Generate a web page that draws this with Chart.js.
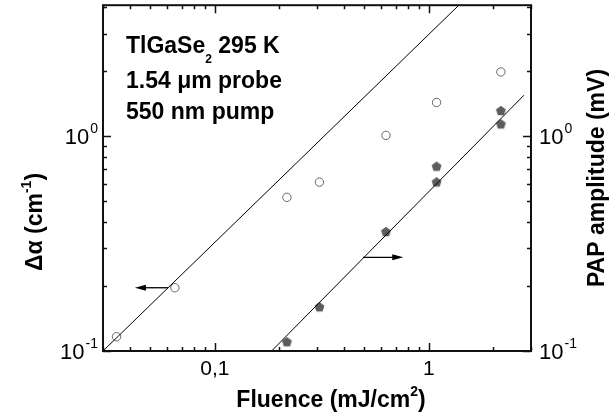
<!DOCTYPE html>
<html>
<head>
<meta charset="utf-8">
<script src="https://cdn.jsdelivr.net/npm/chart.js@4.4.0/dist/chart.umd.min.js"></script>
<style>
  html, body { margin: 0; padding: 0; background: #fff; }
  canvas { display: block; }
</style>
</head>
<body>
<canvas id="chart" width="616" height="416"></canvas>
<script>
// open circles -> left axis (Δα)
const absFluence = [0.0347, 0.065, 0.217, 0.308, 0.63, 1.086, 2.17];
const absDelta = [0.1165, 0.197, 0.519, 0.611, 1.008, 1.435, 1.99];

// filled pentagons -> right axis (PAP amplitude)
const papFluence = [0.217, 0.308, 0.63, 1.086, 1.086, 2.17, 2.17];
const papAmp = [0.1105, 0.1607, 0.36, 0.725, 0.613, 1.317, 1.141];

// straight guide lines, two end points each
const fitAbsX = [0.03, 1.38];
const fitAbsY = [0.1, 4.07];
const fitPapX = [0.184, 2.78];
const fitPapY = [0.1, 1.55];

// arrows: [x tail, x head, y]
const arrowAbs = [0.0603, 0.0423, 0.197];
const arrowPap = [0.492, 0.759, 0.273];

// axis ranges and labelled ticks
const xRange = [0.03, 3];
const yRange = [0.1, 4.07];
const xTickVals = [0.1, 1];
const xTickText = ["0,1", "1"];
const yTickVals = [0.1, 1];
const yTickExp = ["-1", "0"];

const FONT = '"Liberation Sans", Arial, sans-serif';

function pts(xs, ys) {
  return xs.map((x, i) => ({ x, y: ys[i] }));
}

// pentagon marker, Chart.js has no built-in one
function pentagon(r, color) {
  const c = document.createElement("canvas");
  const s = Math.ceil(r * 2 + 2);
  c.width = s; c.height = s;
  const g = c.getContext("2d");
  g.fillStyle = color;
  g.beginPath();
  for (let i = 0; i < 5; i++) {
    const a = -Math.PI / 2 + i * 2 * Math.PI / 5;
    const px = s / 2 + r * Math.cos(a), py = s / 2 + r * Math.sin(a) + 0.5;
    if (i === 0) g.moveTo(px, py); else g.lineTo(px, py);
  }
  g.closePath();
  g.fill();
  return c;
}

function logTicks(min, max) {
  const out = [];
  for (let e = Math.floor(Math.log10(min)); e <= Math.ceil(Math.log10(max)); e++) {
    for (let k = 1; k <= 9; k++) {
      const v = k * Math.pow(10, e);
      if (v >= min * 0.9999 && v <= max * 1.0001) out.push({ v, major: k === 1 });
    }
  }
  return out;
}

// main text then raised small text
function drawPower(ctx, base, exp, x, y, align) {
  ctx.font = "22px " + FONT;
  const wb = ctx.measureText(base).width;
  ctx.font = "14px " + FONT;
  const we = ctx.measureText(exp).width;
  let x0 = align === "right" ? x - wb - we - 1 : x;
  ctx.textAlign = "left";
  ctx.textBaseline = "alphabetic";
  ctx.font = "22px " + FONT;
  ctx.fillText(base, x0, y);
  ctx.font = "14px " + FONT;
  ctx.fillText(exp, x0 + wb + 1, y - 11);
}

// bold text with a raised or lowered small part in the middle
function richWidth(ctx, parts) {
  let w = 0;
  parts.forEach(p => { ctx.font = "bold " + p[1] + "px " + FONT; w += ctx.measureText(p[0]).width; });
  return w;
}
function drawRich(ctx, parts, x, y) {
  let cx = x;
  parts.forEach(p => {
    ctx.font = "bold " + p[1] + "px " + FONT;
    ctx.fillText(p[0], cx, y + p[2]);
    cx += ctx.measureText(p[0]).width;
  });
}

function drawArrow(ctx, x1, x2, y) {
  const dir = Math.sign(x2 - x1);
  ctx.beginPath();
  ctx.moveTo(x1, y);
  ctx.lineTo(x2 - dir * 8, y);
  ctx.lineWidth = 1.3;
  ctx.strokeStyle = "#000";
  ctx.stroke();
  ctx.beginPath();
  ctx.moveTo(x2, y);
  ctx.lineTo(x2 - dir * 11, y - 3);
  ctx.lineTo(x2 - dir * 11, y + 3);
  ctx.closePath();
  ctx.fillStyle = "#000";
  ctx.fill();
}

const framePlugin = {
  id: "frame",
  afterDatasetsDraw(chart) {
    const ctx = chart.ctx;
    const a = chart.chartArea;
    const xs = chart.scales.x, yl = chart.scales.y, yr = chart.scales.y2;
    ctx.save();

    // arrows
    drawArrow(ctx, xs.getPixelForValue(arrowAbs[0]), xs.getPixelForValue(arrowAbs[1]), yl.getPixelForValue(arrowAbs[2]));
    drawArrow(ctx, xs.getPixelForValue(arrowPap[0]), xs.getPixelForValue(arrowPap[1]), yr.getPixelForValue(arrowPap[2]));

    // frame
    ctx.strokeStyle = "#111";
    ctx.lineWidth = 2;
    ctx.strokeRect(a.left, a.top, a.right - a.left, a.bottom - a.top);

    // inward ticks
    ctx.lineWidth = 1.5;
    ctx.beginPath();
    logTicks(xRange[0], xRange[1]).forEach(t => {
      const px = Math.round(xs.getPixelForValue(t.v)) + 0.5;
      const len = t.major ? 8 : 4;
      ctx.moveTo(px, a.bottom); ctx.lineTo(px, a.bottom - len);
      ctx.moveTo(px, a.top); ctx.lineTo(px, a.top + len);
    });
    logTicks(yRange[0], yRange[1]).forEach(t => {
      const py = Math.round(yl.getPixelForValue(t.v)) + 0.5;
      const len = t.major ? 8 : 4;
      ctx.moveTo(a.left, py); ctx.lineTo(a.left + len, py);
      ctx.moveTo(a.right, py); ctx.lineTo(a.right - len, py);
    });
    ctx.stroke();

    // tick labels
    ctx.fillStyle = "#000";
    ctx.font = "21px " + FONT;
    ctx.textAlign = "center";
    ctx.textBaseline = "alphabetic";
    xTickVals.forEach((v, i) => {
      ctx.fillText(xTickText[i], xs.getPixelForValue(v), a.bottom + 24);
    });
    yTickVals.forEach((v, i) => {
      drawPower(ctx, "10", yTickExp[i], a.left - 5, yl.getPixelForValue(v) + 8, "right");
      drawPower(ctx, "10", yTickExp[i], a.right + 8, yr.getPixelForValue(v) + 8, "left");
    });

    // axis titles
    ctx.textAlign = "left";
    const fl = [["Fluence (mJ/cm", 23, 0], ["2", 14, -11], [")", 23, 0]];
    drawRich(ctx, fl, 331 - richWidth(ctx, fl) / 2, 407);

    ctx.save();
    ctx.translate(42, 222);
    ctx.rotate(-Math.PI / 2);
    const da = [["\u0394\u03b1 (cm", 23, 0], ["-1", 14, -11], [")", 23, 0]];
    drawRich(ctx, da, -richWidth(ctx, da) / 2, 0);
    ctx.restore();

    ctx.save();
    ctx.translate(604, 178);
    ctx.rotate(-Math.PI / 2);
    const pa = [["PAP amplitude (mV)", 23, 0]];
    drawRich(ctx, pa, -richWidth(ctx, pa) / 2, 0);
    ctx.restore();

    // sample text block
    drawRich(ctx, [["TlGaSe", 23, 0], ["2", 12, 10], [" 295 K", 23, 0]], 126, 53);
    drawRich(ctx, [["1.54 \u03bcm probe", 23, 0]], 126, 88);
    drawRich(ctx, [["550 nm pump", 23, 0]], 126, 119);

    ctx.restore();
  }
};

new Chart(document.getElementById("chart"), {
  type: "scatter",
  data: {
    datasets: [
      {
        label: "fit abs",
        data: pts(fitAbsX, fitAbsY),
        showLine: true,
        pointRadius: 0,
        borderColor: "#000",
        borderWidth: 1,
        yAxisID: "y",
      },
      {
        label: "fit pap",
        data: pts(fitPapX, fitPapY),
        showLine: true,
        pointRadius: 0,
        borderColor: "#000",
        borderWidth: 1,
        yAxisID: "y2",
      },
      {
        label: "Δα",
        data: pts(absFluence, absDelta),
        pointStyle: "circle",
        pointRadius: 4.2,
        backgroundColor: "#fff",
        borderColor: "#666",
        borderWidth: 1,
        yAxisID: "y",
      },
      {
        label: "PAP amplitude",
        data: pts(papFluence, papAmp),
        pointStyle: pentagon(5.2, "#5c5c5c"),
        yAxisID: "y2",
      },
    ],
  },
  options: {
    responsive: false,
    animation: false,
    layout: { padding: { left: 103, right: 85, top: 5, bottom: 65 } },
    plugins: { legend: { display: false }, tooltip: { enabled: false } },
    scales: {
      x: {
        type: "logarithmic",
        min: xRange[0],
        max: xRange[1],
        grid: { display: false, drawTicks: false },
        border: { display: false },
        ticks: { display: false },
      },
      y: {
        type: "logarithmic",
        position: "left",
        min: yRange[0],
        max: yRange[1],
        grid: { display: false, drawTicks: false },
        border: { display: false },
        ticks: { display: false },
      },
      y2: {
        type: "logarithmic",
        position: "right",
        min: yRange[0],
        max: yRange[1],
        grid: { display: false, drawTicks: false },
        border: { display: false },
        ticks: { display: false },
      },
    },
  },
  plugins: [framePlugin],
});
</script>
</body>
</html>
